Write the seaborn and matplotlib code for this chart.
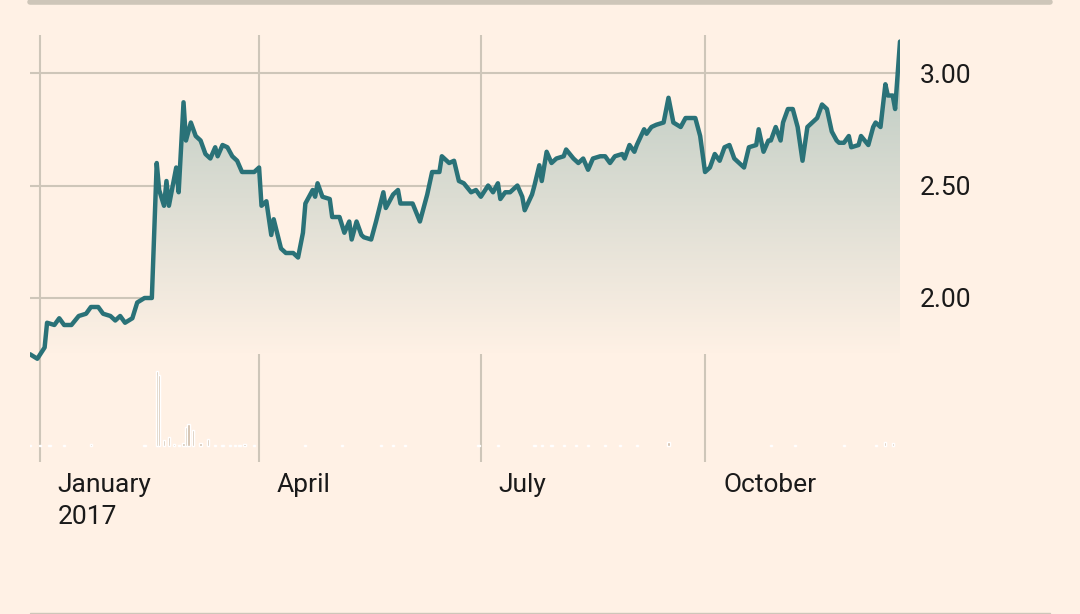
import numpy as np
import pandas as pd
import matplotlib
matplotlib.use("Agg")
import matplotlib.pyplot as plt
import seaborn as sns
from matplotlib.patches import Polygon

days = [-4,-1,2,3,6,8,10,13,16,19,21,24,26,29,31,33,35,38,40,43,46,48,49,51,52,53,56,57,59,60,62,64,66,68,70,72,73,75,77,79,81,83,86,88,90,91,93,95,96,99,101,104,106,108,109,112,113,114,116,119,120,123,125,127,128,130,132,133,136,138,141,142,145,147,148,151,153,156,157,159,161,164,165,168,170,172,174,177,179,181,184,186,188,189,191,193,196,198,199,202,203,205,206,208,210,212,215,216,219,221,223,225,227,230,232,234,236,239,240,242,244,245,248,249,251,253,256,258,260,263,265,267,269,271,273,275,277,279,281,283,285,287,289,291,294,295,297,299,300,302,304,305,307,309,311,313,315,318,319,321,323,325,327,328,330,332,333,336,337,340,342,343,345,347,348,350,351,353]
prices = [1.75,1.73,1.78,1.89,1.88,1.91,1.88,1.88,1.92,1.93,1.96,1.96,1.93,1.92,1.90,1.92,1.89,1.91,1.98,2.00,2.00,2.60,2.48,2.41,2.52,2.41,2.58,2.47,2.87,2.70,2.78,2.72,2.70,2.64,2.62,2.67,2.63,2.68,2.67,2.63,2.61,2.56,2.56,2.56,2.58,2.41,2.43,2.28,2.35,2.22,2.20,2.20,2.18,2.29,2.42,2.48,2.45,2.51,2.45,2.44,2.36,2.36,2.29,2.34,2.26,2.34,2.28,2.27,2.26,2.34,2.47,2.40,2.46,2.48,2.42,2.42,2.42,2.34,2.38,2.46,2.56,2.56,2.63,2.60,2.61,2.52,2.51,2.47,2.48,2.45,2.50,2.47,2.51,2.44,2.47,2.47,2.50,2.45,2.39,2.46,2.50,2.59,2.52,2.65,2.60,2.62,2.63,2.66,2.62,2.60,2.62,2.57,2.62,2.63,2.63,2.60,2.63,2.64,2.62,2.68,2.65,2.68,2.75,2.73,2.76,2.77,2.78,2.89,2.78,2.76,2.80,2.80,2.80,2.72,2.56,2.58,2.64,2.61,2.67,2.68,2.62,2.60,2.58,2.67,2.68,2.75,2.65,2.70,2.70,2.76,2.70,2.78,2.84,2.84,2.76,2.61,2.76,2.79,2.80,2.86,2.84,2.74,2.70,2.69,2.69,2.72,2.67,2.68,2.72,2.68,2.76,2.78,2.76,2.95,2.90,2.90,2.84,3.14]

vol_days = [-4,0,4,10,21,43,48,49,51,53,55,57,59,60,61,63,66,69,72,75,78,80,82,84,88,109,124,140,145,150,180,188,203,206,210,215,220,225,232,238,245,258,300,310,330,343,347,350]
volumes = [1,1,2,1,3,2,100,95,8,12,3,2,4,25,30,22,4,10,2,1,1,2,1,3,2,1,1,1,1,1,1,1,1,1,1,1,1,1,1,1,1,5,1,1,1,1,6,4]

tick_days = [0, 90, 181, 273]
tick_labels = ["January\n2017", "April", "July", "October"]
yticks = [2.0, 2.5, 3.0]

BG = "#FFF1E5"; GRID = "#CEC6B9"; LINE = "#2A7278"; VOL = "#CEBAA5"
sns.set_theme(style="white")
plt.rcParams['font.family'] = ['Roboto', 'DejaVu Sans']

fig = plt.figure(figsize=(10.8, 6.14), dpi=100, facecolor=BG)
ax = fig.add_axes([30/1080, 152/614, 870/1080, 427/614])
ax.set_facecolor("none")
ax.set_xlim(-4, 353)
ax.set_ylim(1.271, 3.169)

# volume axis
ax2 = fig.add_axes(ax.get_position(), sharex=ax)
ax2.set_facecolor("none")
ax2.bar(vol_days, volumes, width=0.9, color=VOL)
ax2.set_ylim(-21.3, 548)
ax2.axis("off")

for v in yticks:
    ax.axhline(v, color=GRID, lw=1.5, zorder=0)
for d in tick_days:
    ax.axvline(d, color=GRID, lw=1.5, zorder=0)

# gradient fill
x = np.array(days, float); y = np.array(prices)
grad = np.linspace(0, 1, 256).reshape(-1, 1)
from matplotlib.colors import LinearSegmentedColormap
cmap = LinearSegmentedColormap.from_list("g", [BG, "#B9C9C1"])
im = ax.imshow(grad, extent=[x[0], x[-1], 1.75, 3.14], origin="lower", aspect="auto", cmap=cmap, zorder=1)
poly = Polygon(np.column_stack([np.r_[x[0], x, x[-1]], np.r_[1.75, y, 1.75]]), transform=ax.transData, closed=True)
im.set_clip_path(poly)
ax.set_xlim(-4, 353); ax.set_ylim(1.271, 3.169)

sns.lineplot(x=days, y=prices, ax=ax, color=LINE, lw=3.2, zorder=3)

for s in ax.spines.values():
    s.set_visible(False)
ax.yaxis.tick_right()
ax.set_yticks(yticks, [f"{v:.2f}" for v in yticks])
ax.set_xticks(tick_days, tick_labels, ha="left", va="top")
ax.tick_params(axis="y", length=0, labelsize=19, pad=14, colors="#1a1a1a")
ax.tick_params(axis="x", length=0, labelsize=19, pad=8, colors="#1a1a1a")
for lab in ax.get_xticklabels():
    lab.set_transform(lab.get_transform() + matplotlib.transforms.ScaledTranslation(0.18, 0, fig.dpi_scale_trans))
    lab.set_linespacing(1.4)

fig.add_artist(plt.Line2D([30/1080, 1050/1080], [1-2/614, 1-2/614], color=GRID, lw=4))
fig.add_artist(plt.Line2D([30/1080, 1050/1080], [1/614, 1/614], color=GRID, lw=1))
fig.savefig("out.png", dpi=100, facecolor=BG)
